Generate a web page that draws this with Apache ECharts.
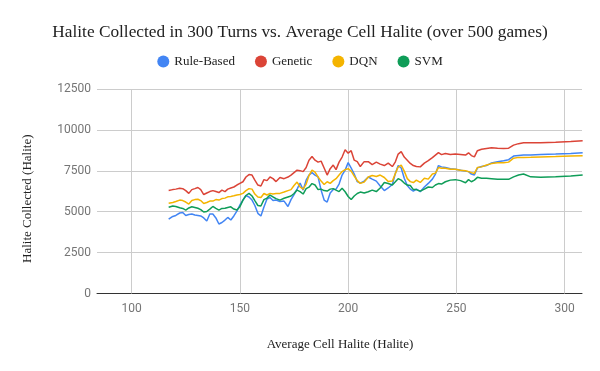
<!DOCTYPE html>
<html>
<head>
<meta charset="utf-8">
<script src="https://cdn.jsdelivr.net/npm/echarts@6/dist/echarts.min.js"></script>
<style>html,body{margin:0;padding:0;background:#fff;}#c{width:600px;height:371px;}</style>
</head>
<body>
<div id="c"></div>
<script>
const avgCellHalite = [117.1,119.0,120.4,122.2,123.6,125.0,126.4,127.8,129.2,130.6,131.9,133.3,134.7,136.1,137.5,138.9,140.3,141.7,143.1,144.4,145.8,147.2,148.6,150.0,151.4,152.8,154.2,155.6,156.9,158.3,159.7,161.1,162.5,163.9,165.3,166.7,168.5,170.4,172.2,173.6,175.0,176.4,177.8,179.2,180.6,181.9,183.3,184.7,186.1,187.5,188.9,190.3,191.7,193.1,194.4,195.8,197.2,198.6,200.0,201.4,202.8,204.2,205.6,207.4,209.3,211.1,213.0,214.8,216.7,218.5,220.4,221.8,223.1,224.5,225.9,227.3,228.7,230.1,231.5,233.3,235.2,237.0,238.9,240.3,241.7,243.1,244.9,247.2,249.5,251.9,254.2,255.6,256.9,258.3,259.7,261.6,263.9,266.2,269.0,271.8,274.1,276.4,278.7,281.0,284.3,288.9,295.8,302.8,308.3];

const ruleBased = [4540,4710,4770,4920,4950,4770,4830,4860,4800,4770,4740,4620,4430,4860,4860,4620,4250,4340,4490,4650,4490,4740,5040,5410,5710,5990,5900,5710,5380,4900,4740,5290,5770,5870,5680,5710,5620,5650,5320,5740,6050,6380,6750,6320,6930,7240,7390,7240,7130,6320,5710,5590,6140,6350,6380,6690,7240,7540,8000,7670,7300,6840,6750,6870,7120,6990,6870,6570,6290,6450,6660,7340,7820,7670,7050,6600,6380,6260,6380,6220,6510,6730,6990,7300,7820,7740,7700,7630,7590,7540,7480,7450,7300,7240,7680,7760,7820,7980,8050,8110,8180,8400,8430,8460,8460,8490,8520,8560,8600];

const genetic = [6290,6350,6380,6430,6410,6290,6120,6350,6410,6480,6350,6050,6140,6230,6290,6230,6170,6320,6230,6380,6450,6510,6630,6730,6830,7120,7270,7240,6930,6630,6570,6960,6900,7120,7020,6840,7090,7020,7120,7240,7390,7540,7510,7450,7700,8150,8370,8150,8030,8090,7670,7240,7630,7850,7570,8030,8340,8790,8580,8730,8150,8060,7760,8060,8060,7880,8030,7910,7820,7970,7760,8050,8520,8670,8340,8150,7950,7820,7760,7740,7970,8120,8310,8460,8610,8490,8560,8490,8520,8500,8460,8600,8430,8350,8730,8820,8870,8910,8880,8870,8880,9070,9160,9210,9210,9220,9250,9290,9330];

const dqn = [5510,5560,5620,5710,5680,5590,5470,5680,5740,5760,5680,5500,5560,5650,5650,5740,5710,5800,5830,5910,5930,5970,6020,6050,6120,6290,6410,6380,6080,5900,5870,6110,6020,6120,6080,6110,6120,6200,6290,6350,6600,6810,6510,6380,6690,7210,7540,7420,7120,6870,6660,6830,6730,6900,7020,7240,7450,7570,7630,7480,7180,6900,6730,6810,7120,7210,7150,7240,7090,6840,6870,7340,7730,7850,7480,7020,6840,6780,6930,6790,7050,6990,7300,7360,7700,7650,7650,7590,7590,7540,7500,7450,7390,7340,7700,7740,7850,7940,7990,7990,8030,8270,8320,8320,8330,8350,8370,8400,8420];

const svm = [5270,5350,5320,5240,5200,5100,5230,5300,5260,5210,5130,4980,5010,5160,5320,5200,5100,5200,5210,5260,5300,5160,5100,5300,5710,5990,6120,5960,5680,5380,5350,5740,5830,6020,5900,5800,5710,5820,5900,5960,6110,6320,6230,6080,6410,6500,6720,6630,6350,6380,6290,6260,6380,6410,6320,6230,6430,6220,5930,5740,5960,6110,6200,6140,6220,6320,6230,6450,6780,6720,6630,6830,7020,6930,6750,6630,6600,6350,6350,6260,6380,6510,6480,6630,6720,6690,6830,6930,6960,6900,6770,6960,6830,6930,7100,7040,7040,7020,6990,6980,6980,7130,7240,7300,7130,7100,7130,7180,7240];

const seriesNames = ['Rule-Based','Genetic','DQN','SVM'];
const seriesValues = [ruleBased, genetic, dqn, svm];
const seriesColors = ['#4285F4','#DB4437','#F4B400','#0F9D58'];
const xTickValues = [100,150,200,250,300];

const chart = echarts.init(document.getElementById('c'), null, {renderer:'canvas'});
const serif = '"Liberation Serif", "Times New Roman", serif';
const sans = 'Roboto, "Noto Sans", sans-serif';

const series = seriesNames.map((name, i) => ({
  name: name,
  type: 'line',
  showSymbol: false,
  symbol: 'none',
  lineStyle: {width: 1.5, color: seriesColors[i]},
  itemStyle: {color: seriesColors[i]},
  data: avgCellHalite.map((x, j) => [x, seriesValues[i][j]]),
  z: 2 + i
}));
series[0].markLine = {
  silent: true,
  symbol: 'none',
  label: {show: false},
  lineStyle: {color: '#cccccc', width: 1, type: 'solid'},
  emphasis: {disabled: true},
  z: 1,
  data: xTickValues.map(v => ({xAxis: v}))
};

chart.setOption({
  animation: false,
  backgroundColor: '#ffffff',
  title: {
    text: 'Halite Collected in 300 Turns vs. Average Cell Halite (over 500 games)',
    left: 'center',
    top: 19,
    textStyle: {fontFamily: serif, fontSize: 17.3, fontWeight: 'normal', color: '#222222'}
  },
  legend: {
    top: 50,
    left: 'center',
    icon: 'circle',
    itemWidth: 12,
    itemHeight: 12,
    itemGap: 20,
    textStyle: {fontFamily: serif, fontSize: 13, color: '#222222'},
    data: seriesNames
  },
  grid: {left: 97, right: 18, top: 89, bottom: 77.5, containLabel: false},
  xAxis: {
    type: 'value',
    min: 84,
    max: 308,
    splitNumber: 5,
    axisLine: {show: true, onZero: false, lineStyle: {color: '#333333', width: 1}},
    axisTick: {show: false},
    splitLine: {show: false},
    axisLabel: {showMinLabel: false, showMaxLabel: false, color: '#757575', fontFamily: sans, fontSize: 12, margin: 9}
  },
  yAxis: {
    type: 'value',
    min: 0,
    max: 12500,
    interval: 2500,
    axisLine: {show: false},
    axisTick: {show: false},
    splitLine: {show: true, lineStyle: {color: '#cccccc', width: 1}},
    axisLabel: {color: '#757575', fontFamily: sans, fontSize: 12, margin: 6, formatter: v => String(v)}
  },
  graphic: [
    {type: 'text', x: 340, y: 338, style: {text: 'Average Cell Halite (Halite)', font: '13px ' + serif, fill: '#222222', textAlign: 'center'}},
    {type: 'text', rotation: Math.PI / 2, x: 21, y: 263, style: {text: 'Halite Collected (Halite)', font: '13px ' + serif, fill: '#222222'}}
  ],
  series: series
});
</script>
</body>
</html>
